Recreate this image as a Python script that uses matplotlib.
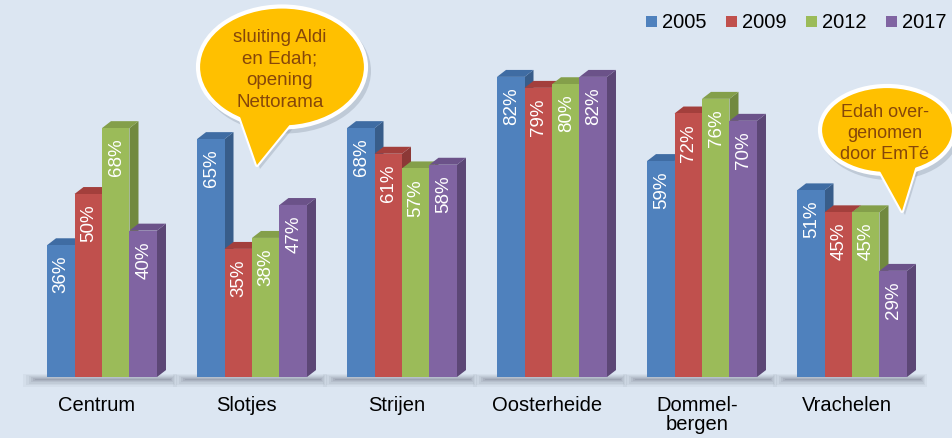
import numpy as np
import matplotlib
matplotlib.use('Agg')
import matplotlib.pyplot as plt
from matplotlib.patches import Polygon, Rectangle, Ellipse

plt.rcParams['font.family'] = ['Liberation Sans', 'DejaVu Sans']

wijken = ['Centrum', 'Slotjes', 'Strijen', 'Oosterheide', 'Dommel-\nbergen', 'Vrachelen']
jaren = ['2005', '2009', '2012', '2017']
v2005 = [36, 65, 68, 82, 59, 51]
v2009 = [50, 35, 61, 79, 72, 45]
v2012 = [68, 38, 57, 80, 76, 45]
v2017 = [40, 47, 58, 82, 70, 29]
reeksen = [v2005, v2009, v2012, v2017]

front = ['#4F81BD', '#C0504D', '#9BBB59', '#8064A2']
side = ['#385D8A', '#8C3836', '#71893F', '#5C4776']
top = ['#3F6CA3', '#A33F3C', '#849F4A', '#6B5289']
bg = '#DCE6F2'

fig = plt.figure(figsize=(9.53, 4.39), dpi=100)
fig.patch.set_facecolor(bg)
ax = fig.add_axes([0, 0, 1, 1])
ax.set_facecolor(bg)
ax.set_xlim(-0.68, 5.6733)
ax.set_ylim(-61 / 3.66, 378 / 3.66)
ax.axis('off')

w = 0.1833
dx = 0.06
dy = 1.9
x = np.arange(len(wijken))

# soft floor shadow
for i in x:
    for h, a in [(2.2, 0.05), (1.7, 0.06), (1.3, 0.07), (0.9, 0.09), (0.6, 0.11), (0.3, 0.13)]:
        xs = [i - 0.53 + 0.1 * (1 - h / 2.2), i + 0.5 - 0.05 * (1 - h / 2.2)]
        ax.fill_between(xs, [-0.6 - h, -0.6 - h], [-0.6 + h * 0.6, -0.6 + h * 0.6],
                        color='#4a5160', alpha=a, lw=0, zorder=1)

z = 2
for i in x:
    for j, vals in enumerate(reeksen):
        v = vals[i]
        x0 = i - 2 * w + j * w
        x1 = x0 + w
        ax.add_patch(Polygon([(x1, 0), (x1 + dx, dy), (x1 + dx, v + dy), (x1, v)],
                             closed=True, fc=side[j], ec='none', zorder=z))
        ax.add_patch(Polygon([(x0, v), (x0 + dx, v + dy), (x1 + dx, v + dy), (x1, v)],
                             closed=True, fc=top[j], ec='none', zorder=z))
        ax.add_patch(Rectangle((x0, 0), w, v, fc=front[j], ec='none', zorder=z + 1))
        ax.text(x0 + w / 2 + 0.003, v - 2.6, f'{v}%', rotation=90, ha='center', va='top',
                color='white', fontsize=13.5, zorder=z + 2)
        z += 3

for i, naam in enumerate(wijken):
    ax.text(i - 0.035, -5.0, naam, ha='center', va='top', fontsize=14.5,
            color='black', linespacing=1.0)

# overlay in pixel coordinates for legend and callouts
ov = fig.add_axes([0, 0, 1, 1])
ov.set_xlim(0, 953)
ov.set_ylim(439, 0)
ov.axis('off')
ov.patch.set_alpha(0)

for k, jaar in enumerate(jaren):
    lx = 646 + 80 * k
    ov.add_patch(Rectangle((lx, 17), 11, 11, fc=front[k], ec='none'))
    ov.text(lx + 16, 22.5, jaar, ha='left', va='center', fontsize=14.5, color='black')


def bubble(cx, cy, bw, bh, tail, lines, fs, spacing, ty):
    ov.add_patch(Ellipse((cx + 3, cy + 4), bw + 4, bh + 4, fc='#7f8a99', ec='none', alpha=0.3, zorder=5))
    ov.add_patch(Polygon([(px + 3, py + 4) for px, py in tail], closed=True,
                         fc='#7f8a99', ec='none', alpha=0.3, zorder=5))
    ov.add_patch(Polygon(tail, closed=True, fc='#FFC000', ec='white', lw=3, zorder=6,
                         joinstyle='round'))
    ov.add_patch(Ellipse((cx, cy), bw, bh, fc='#FFC000', ec='white', lw=3, zorder=7))
    ov.add_patch(Polygon(tail, closed=True, fc='#FFC000', ec='none', zorder=8))
    n = len(lines)
    for k, t in enumerate(lines):
        ov.text(cx - 2, ty + (k - (n - 1) / 2) * spacing, t, ha='center', va='center',
                fontsize=fs, color='#86470A', zorder=9)


bubble(282, 68, 168, 121, [(238, 112), (257, 166), (296, 118)],
       ['sluiting Aldi', 'en Edah;', 'opening', 'Nettorama'], 13.5, 21.5, 70)
bubble(887, 131, 134, 88, [(876, 165), (902, 212), (918, 160)],
       ['Edah over-', 'genomen', 'door EmTé'], 13, 21, 134)

fig.savefig('out.png', dpi=100, facecolor=bg)
